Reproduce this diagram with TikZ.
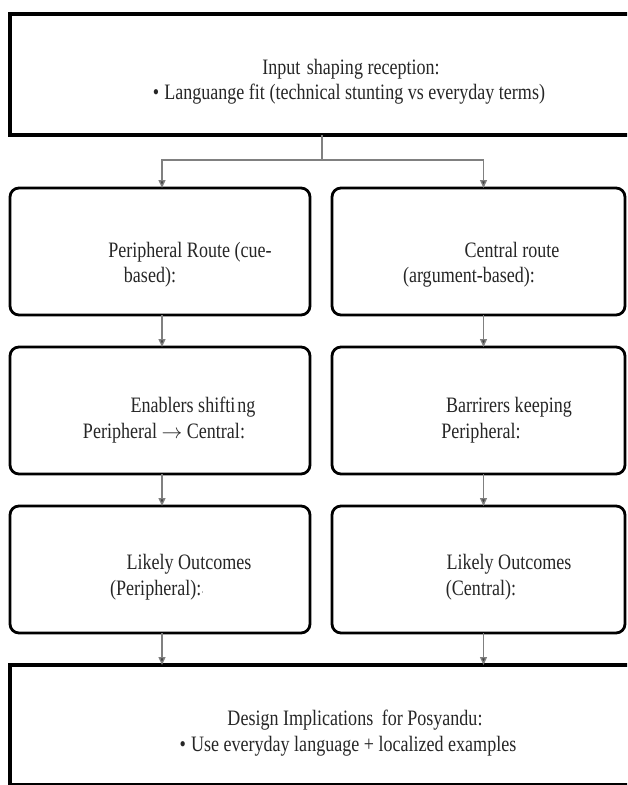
\documentclass[tikz,border=0pt]{standalone}
\usepackage{fontspec}
\setmainfont{Liberation Serif}[FakeStretch=0.82]
\usetikzlibrary{arrows.meta,calc}
\begin{document}
\begin{tikzpicture}[x=1pt,y=-1pt,
  sqbox/.style={draw=black,line width=3.2pt,outer sep=0pt,inner sep=0pt,anchor=north west},
  rbox/.style={draw=black,line width=2.8pt,rounded corners=9pt,outer sep=0pt,inner sep=0pt,anchor=north west,minimum height=127pt},
  lbl/.style={font=\fontsize{22}{24}\selectfont,inner sep=0pt,text=black!85,anchor=base},
  conn/.style={draw=black!50,line width=1.4pt,-{Triangle[length=8pt,width=7pt,fill=black!75]}},
  plain/.style={draw=black!50,line width=1.4pt}]
\useasboundingbox (0,0) rectangle (627,785);
\begin{scope}
\clip (0,0) rectangle (627,785);
% boxes
\node[sqbox,minimum width=660pt,minimum height=121pt] (top) at (10,14) {};
\node[rbox,minimum width=300pt] (p1) at (10,188) {};
\node[rbox,minimum width=293pt] (c1) at (332,188) {};
\node[rbox,minimum width=300pt] (p2) at (10,347) {};
\node[rbox,minimum width=293pt] (c2) at (332,347) {};
\node[rbox,minimum width=300pt] (p3) at (10,506) {};
\node[rbox,minimum width=293pt] (c3) at (332,506) {};
\node[sqbox,minimum width=660pt,minimum height=120pt] (bot) at (10,665) {};
% connectors
\coordinate (split) at (322,160);
\draw[plain] (top.south -| split) -- (split);
\draw[conn] (split) -| ([xshift=2pt]p1.north);
\draw[conn] (split) -| ([xshift=5pt]c1.north);
\draw[conn] ([xshift=2pt]p1.south) -- ([xshift=2pt]p2.north);
\draw[conn] ([xshift=5pt]c1.south) -- ([xshift=5pt]c2.north);
\draw[conn] ([xshift=2pt]p2.south) -- ([xshift=2pt]p3.north);
\draw[conn] ([xshift=5pt]c2.south) -- ([xshift=5pt]c3.north);
\draw[conn] ([xshift=2pt]p3.south) -- ([xshift=2pt]p3.south |- bot.north);
\draw[conn] ([xshift=5pt]c3.south) -- ([xshift=5pt]c3.south |- bot.north);
\end{scope}
% texts
\node[lbl] (t1) at (351,74) {Input\hspace{2pt} shaping reception:};
\node[lbl] (t2) at (349,99) {\textbullet\hspace{5pt}Languange fit (technical stunting vs everyday terms)};
\node[lbl] (a1) at (190,257) {Peripheral Route (cue-};
\node[lbl] (a2) at (150,282) {based):};
\node[lbl] (b1) at (512,257) {Central route};
\node[lbl] (b2) at (469,282) {(argument-based):};
\node[lbl] (e1) at (193,412) {Enablers shifti\hspace{2pt}ng};
\node[lbl] (e2) at (164,438) {Peripheral $\rightarrow$ Central:};
\node[lbl] (f1) at (509,412) {Barrirers keeping};
\node[lbl] (f2) at (481,438) {Peripheral:};
\node[lbl] (g1) at (189,569) {Likely Outcomes};
\node[lbl] (g2) at (157,595) {(Peripheral):{\fontsize{9}{9}\selectfont·}};
\node[lbl] (h1) at (509,569) {Likely Outcomes};
\node[lbl] (h2) at (481,595) {(Central):};
\node[lbl] (d1) at (355,725) {Design Implications\hspace{4pt} for Posyandu:};
\node[lbl] (d2) at (348,751) {\textbullet\hspace{5pt}Use everyday language + localized examples};
\end{tikzpicture}
\end{document}
